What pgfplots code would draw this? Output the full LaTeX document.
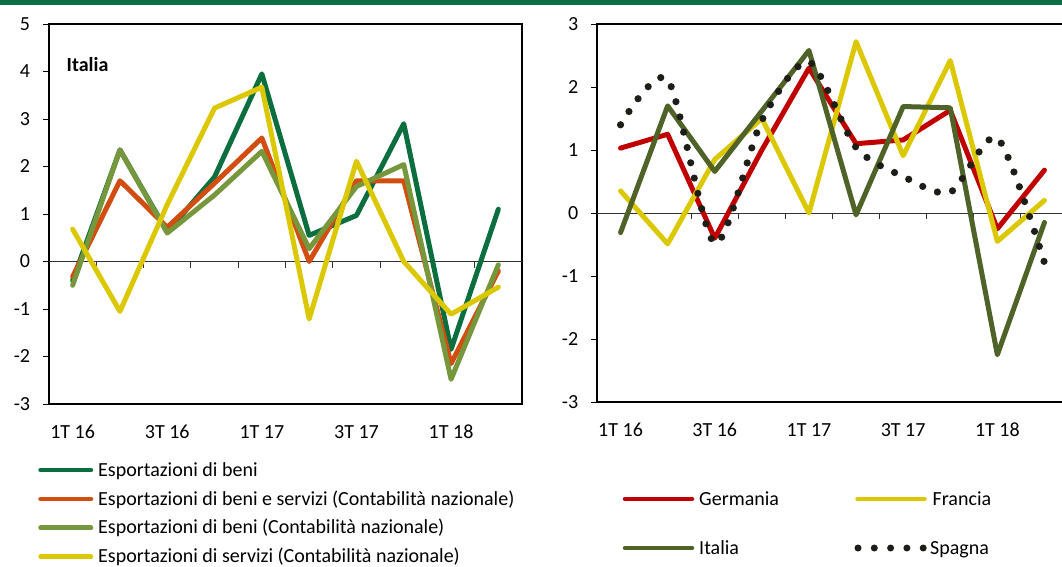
\documentclass[border=0pt]{standalone}
\usepackage{fontspec}
\setmainfont{Carlito}
\usepackage{pgfplots}
\pgfplotsset{compat=1.18}
\definecolor{cBand}{HTML}{0B6E46}
\definecolor{cBeni}{HTML}{0B6E3F}
\definecolor{cBS}{HTML}{D24E10}
\definecolor{cBCN}{HTML}{77973D}
\definecolor{cServ}{HTML}{DCC800}
\definecolor{cGer}{HTML}{C00000}
\definecolor{cFra}{HTML}{DCC800}
\definecolor{cIta}{HTML}{4F6228}
\definecolor{cSpa}{HTML}{1E1E19}
\begin{document}
\fontsize{20}{24}\selectfont
\begin{tikzpicture}
\useasboundingbox (0pt,0pt) rectangle (1062pt,566pt);
\fill[cBand] (0pt,560.5pt) rectangle (1062pt,566pt);
\pgfplotsset{
  panel/.style={
    scale only axis, xmin=-0.5, xmax=9.5,
    axis line style={line width=1.3pt},
    tick style={black, line width=1pt},
    tick align=outside, major tick length=6pt,
    xtick pos=bottom, ytick pos=left,
    xtick={0,2,4,6,8},
    xticklabels={1T 16,3T 16,1T 17,3T 17,1T 18},
    xtick style={draw=none},
    ticklabel style={font=\fontsize{20}{24}\selectfont},
    xticklabel style={anchor=base, yshift=-28pt},
    yticklabel style={xshift=-6pt},
    no markers,
    every axis plot/.append style={line join=round, line cap=round},
  }
}
% left panel
\begin{axis}[panel, at={(49pt,162pt)}, anchor=south west, width=473pt, height=380pt,
  ymin=-3, ymax=5, ytick={-3,-2,...,5}, yticklabels={-3,-2,-1,0,1,2,3,4,5}]
\draw[line width=1pt, black!80] (axis cs:-0.5,0) -- (axis cs:9.5,0);
\pgfplotsinvokeforeach{0.5,1.5,...,8.5}{\draw[line width=1pt, black!80] (axis cs:#1,0) -- ++(0pt,-6pt);}
\addplot[cBeni, line width=5pt] coordinates {(0,-0.4) (1,2.35) (2,0.62) (3,1.78) (4,3.95) (5,0.55) (6,0.97) (7,2.9) (8,-1.85) (9,1.1)};
\addplot[cBS, line width=5pt] coordinates {(0,-0.32) (1,1.7) (2,0.72) (3,1.65) (4,2.6) (5,0.0) (6,1.7) (7,1.7) (8,-2.15) (9,-0.2)};
\addplot[cBCN, line width=5pt] coordinates {(0,-0.5) (1,2.35) (2,0.6) (3,1.4) (4,2.32) (5,0.27) (6,1.58) (7,2.04) (8,-2.48) (9,-0.07)};
\addplot[cServ, line width=5pt] coordinates {(0,0.68) (1,-1.05) (2,1.2) (3,3.23) (4,3.67) (5,-1.21) (6,2.11) (7,0.0) (8,-1.11) (9,-0.54)};
\end{axis}
% right panel
\begin{axis}[panel, at={(597pt,164pt)}, anchor=south west, width=471pt, height=378pt,
  ymin=-3, ymax=3, ytick={-3,-2,...,3}, yticklabels={-3,-2,-1,0,1,2,3}]
\draw[line width=1pt, black!80] (axis cs:-0.5,0) -- (axis cs:9.5,0);
\pgfplotsinvokeforeach{0.5,1.5,...,8.5}{\draw[line width=1pt, black!80] (axis cs:#1,0) -- ++(0pt,-6pt);}
\addplot[cGer, line width=5pt] coordinates {(0,1.03) (1,1.25) (2,-0.4) (3,1.0) (4,2.3) (5,1.1) (6,1.16) (7,1.63) (8,-0.25) (9,0.68)};
\addplot[cFra, line width=5pt] coordinates {(0,0.35) (1,-0.49) (2,0.85) (3,1.5) (4,0.0) (5,2.72) (6,0.91) (7,2.42) (8,-0.45) (9,0.2)};
\addplot[cIta, line width=5pt] coordinates {(0,-0.31) (1,1.7) (2,0.66) (3,1.62) (4,2.58) (5,-0.03) (6,1.69) (7,1.67) (8,-2.25) (9,-0.15)};
\addplot[cSpa, line width=7.2pt, line cap=round, dash pattern=on 0pt off 15.72pt, smooth, tension=0.45] coordinates {(0,1.4) (1,2.12) (2,-0.48) (3,1.47) (4,2.4) (5,1.04) (6,0.58) (7,0.33) (8,1.19) (9,-0.79)};
\end{axis}
\begin{scope}[x=1pt,y=1pt]
\node[anchor=base west, inner sep=0, font=\bfseries] at (66.5,494) {Italia};
% left legend
\draw[cBeni, line width=4.5pt, line cap=round] (40.5,96) -- (91,96);
\node[anchor=base west, inner sep=0] at (98,90) {Esportazioni di beni};
\draw[cBS, line width=4.5pt, line cap=round] (40.5,67) -- (91,67);
\node[anchor=base west, inner sep=0] at (98,61) {Esportazioni di beni e servizi (Contabilità nazionale)};
\draw[cBCN, line width=4.5pt, line cap=round] (40.5,38.3) -- (91,38.3);
\node[anchor=base west, inner sep=0] at (98,32.3) {Esportazioni di beni (Contabilità nazionale)};
\draw[cServ, line width=4.5pt, line cap=round] (40.5,9.3) -- (91,9.3);
\node[anchor=base west, inner sep=0] at (98,3.3) {Esportazioni di servizi (Contabilità nazionale)};
% right legend
\draw[cGer, line width=4.5pt, line cap=round] (625,67) -- (692,67);
\node[anchor=base west, inner sep=0] at (699,61) {Germania};
\draw[cFra, line width=4.5pt, line cap=round] (857.5,67) -- (924.5,67);
\node[anchor=base west, inner sep=0] at (932.5,61) {Francia};
\draw[cIta, line width=4.5pt, line cap=round] (625,18) -- (692,18);
\node[anchor=base west, inner sep=0] at (699,12) {Italia};
\foreach \xx in {858,874.3,890.6,906.9,923.2} {\fill[cSpa] (\xx,18) circle (3.5);}
\node[anchor=base west, inner sep=0] at (930,12) {Spagna};
\end{scope}
\end{tikzpicture}
\end{document}
